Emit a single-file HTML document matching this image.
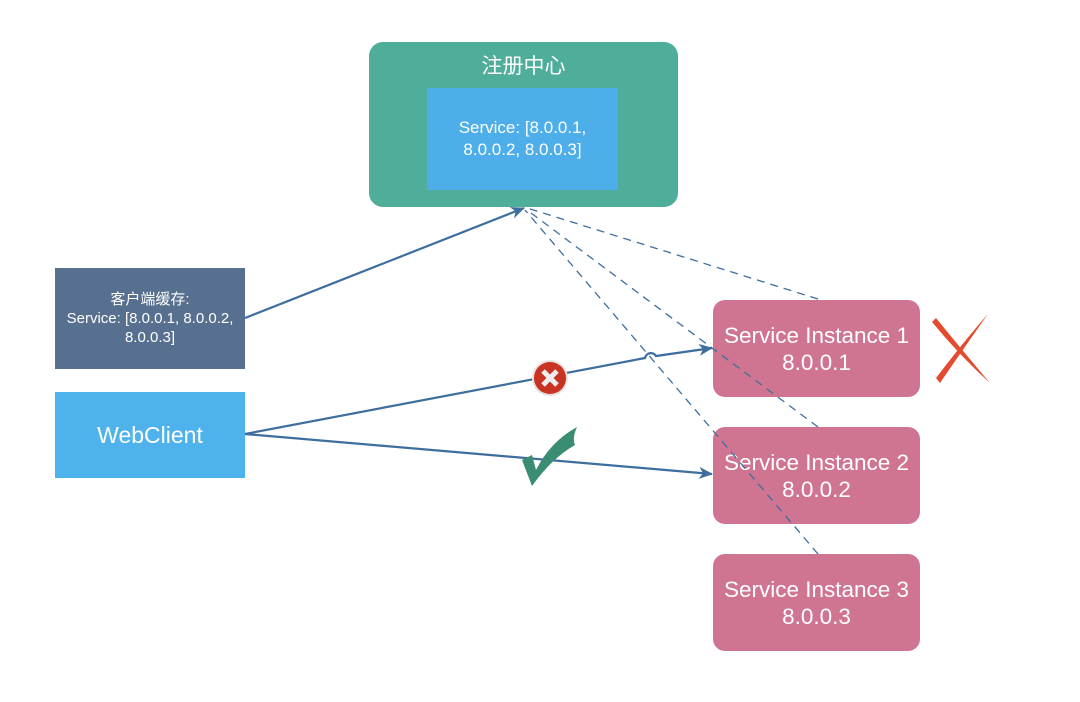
<!DOCTYPE html>
<html><head><meta charset="utf-8"><style>
html,body{margin:0;padding:0;background:#fff;width:1080px;height:702px;overflow:hidden;font-family:"Liberation Sans","Noto Sans CJK SC",sans-serif}
.b{position:absolute;color:#fff;text-align:center;display:flex;align-items:center;justify-content:center;box-sizing:border-box;white-space:nowrap}
.inst{left:713px;width:207px;height:97px;background:#cf7592;border-radius:12px;font-size:22.5px;line-height:27px}
</style></head><body>
<div class="b" style="left:369px;top:42px;width:309px;height:165px;background:#4fae9a;border-radius:14px;align-items:flex-start;padding-top:8px;font-size:21px">注册中心</div>
<div class="b" style="left:427px;top:88px;width:191px;height:102px;background:#4eaeea;font-size:17px;line-height:22px">Service: [8.0.0.1,<br>8.0.0.2, 8.0.0.3]</div>
<div class="b" style="left:55px;top:268px;width:190px;height:101px;background:#587090;font-size:15px;line-height:19px">客户端缓存:<br>Service: [8.0.0.1, 8.0.0.2,<br>8.0.0.3]</div>
<div class="b" style="left:55px;top:392px;width:190px;height:86px;background:#4eb2ec;font-size:23px">WebClient</div>
<div class="b inst" style="top:300px">Service Instance 1<br>8.0.0.1</div>
<div class="b inst" style="top:427px">Service Instance 2<br>8.0.0.2</div>
<div class="b inst" style="top:554px">Service Instance 3<br>8.0.0.3</div>
<svg width="1080" height="702" style="position:absolute;left:0;top:0">
<defs><marker id="a" markerWidth="14" markerHeight="12" refX="13" refY="6" orient="auto" markerUnits="userSpaceOnUse"><path d="M0,0 L14,6 L0,12 L4,6z" fill="#3d6e9e"/></marker></defs>
<g stroke="#3d6e9e" stroke-width="1.3" stroke-dasharray="8,6" fill="none">
<line x1="818" y1="299" x2="527" y2="208"/>
<line x1="818" y1="427" x2="527" y2="210"/>
<line x1="818" y1="554" x2="525" y2="210"/>
</g>
<g stroke="#3d6e9e" stroke-width="2.2" fill="none">
<line x1="245" y1="318" x2="524" y2="208" marker-end="url(#a)"/>
<path d="M245,434 L645,358 A6,6 0 0 1 656,356 L712,348" marker-end="url(#a)"/>
<line x1="245" y1="434" x2="712" y2="474" marker-end="url(#a)"/>
</g>
<circle cx="550" cy="378" r="18" fill="#e8e0de"/>
<circle cx="550" cy="378" r="16" fill="#c93324"/>
<path d="M543,371 L557,385 M557,371 L543,385" stroke="#eee" stroke-width="5"/>
<path d="M522,460 L532,455 L536,470 Q550,442 577,427 Q572,438 575,445 Q552,458 532,486 Z" fill="#3a8c72"/>
<path d="M936,378 Q965,340 988,314 Q966,345 940,383Z M936,318 Q962,350 990,383 Q960,356 932,322Z" fill="#e44a2e"/>
</svg>
</body></html>
